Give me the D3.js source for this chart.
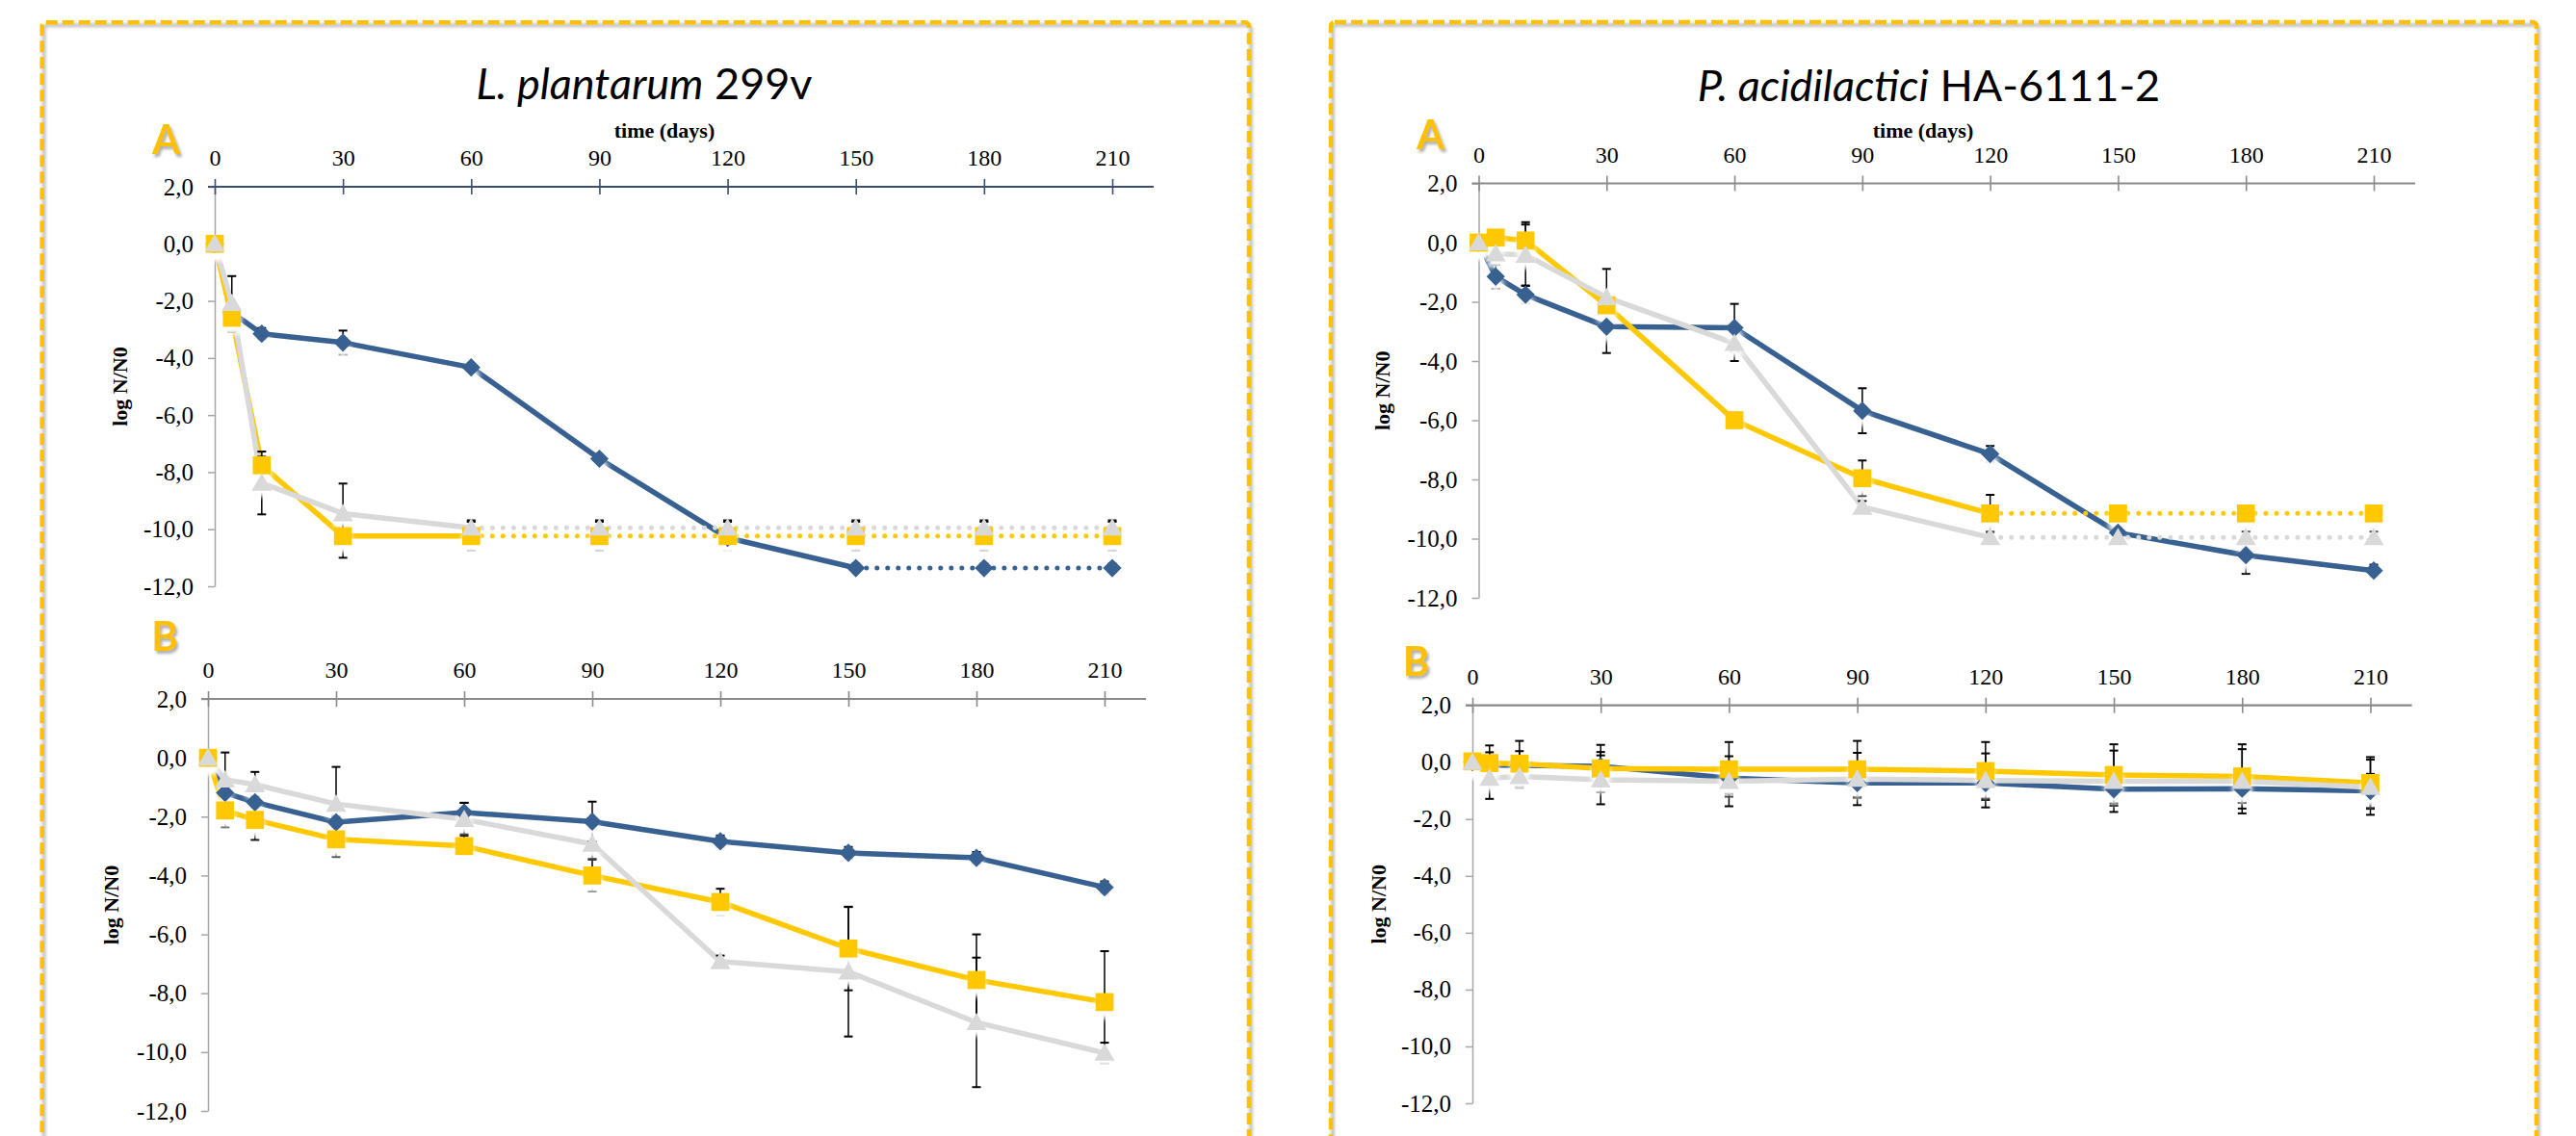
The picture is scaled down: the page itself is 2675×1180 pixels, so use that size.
<!DOCTYPE html>
<html><head><meta charset="utf-8">
<script src="https://cdn.jsdelivr.net/npm/d3@7"></script>
<style>body{margin:0;background:#fff;} svg{display:block}</style>
</head><body>
<svg id="c" width="2675" height="1180"></svg>
<script>
// ---------- DATA ----------
const days = [0, 4, 11, 30, 60, 90, 120, 150, 180, 210];
const xTickValues = [0, 30, 60, 90, 120, 150, 180, 210];
const yTickValues = [2, 0, -2, -4, -6, -8, -10, -12];
const titleItalic = ["L. plantarum", "P. acidilactici"];
const titleRoman = [" 299v", " HA-6111-2"];
const yAxisTitle = "log N/N0";
const xAxisTitle = "time (days)";

// L. plantarum 299v, panel A
const lpA_blue   = [0, -2.4, -3.15, -3.46, -4.33, -7.53, -10.3, -11.36, -11.36, -11.36];
const lpA_yellow = [0, -2.59, -7.76, -10.24, -10.24, -10.24, -10.24, -10.24, -10.24, -10.24];
const lpA_grey   = [0, -2.08, -8.38, -9.45, -9.95, -9.95, -9.95, -9.95, -9.95, -9.95];
const lpA_blueErr   = [0, 0, 0.2, 0.42, 0.1, 0.1, 0.3, 0.15, 0.15, 0.15];
const lpA_yellowErr = [0, 0.5, 0.3, 0.76, 0.5, 0.5, 0.5, 0.5, 0.5, 0.5];
const lpA_greyErr   = [0, 0.95, 1.1, 1.05, 0.26, 0.26, 0.26, 0.26, 0.26, 0.26];

// L. plantarum 299v, panel B
const lpB_blue   = [0, -1.19, -1.51, -2.19, -1.86, -2.17, -2.84, -3.23, -3.4, -4.4];
const lpB_yellow = [0, -1.79, -2.11, -2.77, -3.0, -4.0, -4.9, -6.48, -7.55, -8.3];
const lpB_grey   = [0, -0.75, -0.91, -1.57, -2.09, -2.93, -6.92, -7.27, -8.99, -10.03];
const lpB_blueErr   = [0, 0.3, 0.2, 0.2, 0.33, 0.68, 0.2, 0.2, 0.2, 0.2];
const lpB_yellowErr = [0, 0.57, 0.68, 0.6, 0.4, 0.54, 0.45, 1.42, 1.55, 1.73];
const lpB_greyErr   = [0, 0.93, 0.43, 1.26, 0.56, 0.5, 0.2, 2.2, 2.2, 0.35];

// P. acidilactici HA-6111-2, panel A
const paA_blue   = [0, -1.15, -1.76, -2.84, -2.88, -5.68, -7.14, -9.8, -10.56, -11.08];
const paA_yellow = [0, 0.17, 0.07, -2.12, -6.0, -7.96, -9.15, -9.15, -9.15, -9.15];
const paA_grey   = [0, -0.37, -0.42, -1.85, -3.4, -8.93, -9.96, -9.96, -9.96, -9.96];
const paA_blueErr   = [0, 0.4, 0.3, 0.89, 0.81, 0.76, 0.27, 0.2, 0.63, 0.2];
const paA_yellowErr = [0, 0.1, 0.62, 0.3, 0.1, 0.6, 0.63, 0.1, 0.1, 0.1];
const paA_greyErr   = [0, 0.2, 1.03, 0.96, 0.6, 0.2, 0.2, 0.2, 0.2, 0.2];

// P. acidilactici HA-6111-2, panel B
const paB_blue   = [0, -0.1, -0.11, -0.14, -0.56, -0.73, -0.73, -0.95, -0.93, -1.01];
const paB_yellow = [0.03, -0.03, -0.05, -0.22, -0.25, -0.25, -0.31, -0.45, -0.5, -0.73];
const paB_grey   = [0, -0.56, -0.5, -0.62, -0.67, -0.59, -0.64, -0.67, -0.67, -0.88];
const paB_blueErr   = [0, 0.45, 0.5, 0.5, 0.55, 0.5, 0.55, 0.5, 0.5, 0.6];
const paB_yellowErr = [0, 0.62, 0.8, 0.83, 0.96, 1.0, 1.02, 1.08, 1.13, 0.91];
const paB_greyErr   = [0, 0.73, 0.4, 0.86, 0.88, 0.92, 0.95, 1.08, 1.13, 0.97];

// ---------- STYLE / LAYOUT ----------
const C = {blue: "#386192", yellow: "#FFC800", grey: "#D9D9D9"};
const serif = "'Liberation Serif', 'Times New Roman', serif";
const sans = "Lato, 'Open Sans', sans-serif";

const panels = [
  {x0:223, x210:1155, yTop:194, yBot:609, axisColor:"#3B4E6B", letter:"A", lx:172.5, ly:160, time:[690,143], yl:124,
   s:[["blue",lpA_blue,lpA_blueErr,7],["yellow",lpA_yellow,lpA_yellowErr,4],["grey",lpA_grey,lpA_greyErr,4]]},
  {x0:216, x210:1147, yTop:726, yBot:1154, axisColor:"#8A8A8A", letter:"B", lx:171, ly:676, time:null, yl:115,
   s:[["blue",lpB_blue,lpB_blueErr,9],["yellow",lpB_yellow,lpB_yellowErr,9],["grey",lpB_grey,lpB_greyErr,9]]},
  {x0:1535.5, x210:2465, yTop:190.5, yBot:621, axisColor:"#8A8A8A", letter:"A", lx:1485.5, ly:155, time:[1997,143], yl:1435,
   s:[["blue",paA_blue,paA_blueErr,9],["yellow",paA_yellow,paA_yellowErr,6],["grey",paA_grey,paA_greyErr,6]]},
  {x0:1529, x210:2461.5, yTop:732.7, yBot:1146, axisColor:"#8A8A8A", letter:"B", lx:1470.5, ly:702, time:null, yl:1431,
   s:[["blue",paB_blue,paB_blueErr,9],["yellow",paB_yellow,paB_yellowErr,9],["grey",paB_grey,paB_greyErr,9]]}
];

const svg = d3.select("#c");
const defs = svg.append("defs");
defs.append("filter").attr("id","blur").attr("x","-5%").attr("y","-5%").attr("width","110%").attr("height","110%")
  .append("feGaussianBlur").attr("stdDeviation",1.6);
const fs = defs.append("filter").attr("id","lshadow").attr("x","-30%").attr("y","-30%").attr("width","160%").attr("height","160%");
fs.append("feDropShadow").attr("dx",2).attr("dy",3).attr("stdDeviation",1.5).attr("flood-color","#999").attr("flood-opacity",0.8);
defs.append("filter").attr("id","mglow").attr("x","-50%").attr("y","-50%").attr("width","200%").attr("height","200%")
  .append("feGaussianBlur").attr("stdDeviation",2.5);

// frames
[[43.7, 23.3, 1253.3], [1382, 23, 1252]].forEach(([x,y,w]) => {
  svg.append("rect").attr("x",x+2).attr("y",y+3).attr("width",w).attr("height",1300).attr("rx",4)
    .attr("fill","none").attr("stroke","#c4c4c4").attr("stroke-width",4).attr("filter","url(#blur)");
  svg.append("rect").attr("x",x).attr("y",y).attr("width",w).attr("height",1300).attr("rx",4)
    .attr("fill","none").attr("stroke","#FFC000").attr("stroke-width",4.5).attr("stroke-dasharray","12 5");
});

// titles
[[669,103],[2003,105]].forEach(([cx,by],i) => {
  const t = svg.append("text").attr("x",cx).attr("y",by).attr("text-anchor","middle")
    .attr("font-family",sans).attr("font-size",45).attr("fill","#000");
  t.append("tspan").attr("font-style","italic").text(titleItalic[i]);
  t.append("tspan").text(titleRoman[i]);
});

const yFmt = d3.formatLocale({decimal:",", thousands:".", grouping:[3], currency:["",""], minus:"-"}).format(".1f");

const shapes = {
  blue: d3.symbol(d3.symbolSquare, 185),
  yellow: d3.symbol(d3.symbolSquare, 350),
  grey: d3.symbol(d3.symbolTriangle, 190)
};

panels.forEach(p => {
  const x = d3.scaleLinear().domain([0,210]).range([p.x0, p.x210]);
  const y = d3.scaleLinear().domain([2,-12]).range([p.yTop, p.yBot]);
  const g = svg.append("g");

  // y axis
  const ya = g.append("g").attr("transform",`translate(${p.x0},0)`)
    .call(d3.axisLeft(y).tickValues(yTickValues).tickSize(7).tickSizeOuter(0).tickPadding(15).tickFormat(yFmt));
  ya.select(".domain").attr("stroke","#A6A6A6").attr("stroke-width",1.5);
  ya.selectAll(".tick line").attr("stroke","#A6A6A6").attr("stroke-width",1.5);
  ya.selectAll("text").attr("font-family",serif).attr("font-size",25).attr("fill","#000");

  // top x axis
  const xa = g.append("g").attr("transform",`translate(0,${p.yTop})`)
    .call(d3.axisTop(x).tickValues(xTickValues).tickSize(7).tickSizeOuter(0).tickPadding(15));
  xa.select(".domain").remove();
  xa.selectAll(".tick line").attr("y1",8).attr("y2",-8).attr("stroke",p.axisColor).attr("stroke-width",1.6);
  xa.selectAll("text").attr("font-family",serif).attr("font-size",24).attr("fill","#000").attr("y",-22).attr("dy","0");
  g.append("line").attr("x1",p.x0-7).attr("x2",x(219.7)).attr("y1",p.yTop).attr("y2",p.yTop)
    .attr("stroke",p.axisColor).attr("stroke-width",2.2);

  // labels
  g.append("text").attr("transform",`translate(${p.yl},${(p.yTop+p.yBot)/2}) rotate(-90)`).attr("dy","0.35em")
    .attr("text-anchor","middle").attr("font-family",serif).attr("font-weight","bold").attr("font-size",22).text(yAxisTitle);
  if (p.time) g.append("text").attr("x",p.time[0]).attr("y",p.time[1]).attr("text-anchor","middle")
    .attr("font-family",serif).attr("font-weight","bold").attr("font-size",22).text(xAxisTitle);
  g.append("text").attr("x",p.lx).attr("y",p.ly).attr("text-anchor","middle").attr("font-family",sans)
    .attr("font-weight","bold").attr("font-size",42).attr("fill","#FFC000").attr("filter","url(#lshadow)").text(p.letter);

  const line = d3.line().x(d=>x(d.d)).y(d=>y(d.v));
  const ser = p.s.map(([col, vals, errs, solidUntil]) => ({col, solidUntil,
    pts: days.map((d,i)=>({d, v:vals[i], e:errs[i]}))}));

  // lines
  ser.forEach(s => {
    g.append("path").attr("d", line(s.pts.slice(0, s.solidUntil+1))).attr("fill","none")
      .attr("stroke",C[s.col]).attr("stroke-width",5.5).attr("stroke-linejoin","round");
    if (s.solidUntil < days.length-1)
      g.append("path").attr("d", line(s.pts.slice(s.solidUntil))).attr("fill","none")
        .attr("stroke",C[s.col]).attr("stroke-width",5).attr("stroke-linecap","round").attr("stroke-dasharray","0.01 11");
  });
  // error bars
  ser.forEach(s => {
    s.pts.filter(d=>d.e>0).forEach(d => {
      const cx = x(d.d), y1 = y(d.v+d.e), y2 = y(d.v-d.e);
      g.append("line").attr("x1",cx).attr("x2",cx).attr("y1",y1).attr("y2",y2).attr("stroke","#000").attr("stroke-width",1.5);
      [y1,y2].forEach(yy => g.append("line").attr("x1",cx-4.5).attr("x2",cx+4.5).attr("y1",yy).attr("y2",yy)
        .attr("stroke","#000").attr("stroke-width",2));
    });
  });
  // marker glow + markers
  ser.forEach(s => {
    g.selectAll(null).data(s.pts).join("path").attr("d", shapes[s.col]())
      .attr("transform", d=>`translate(${x(d.d)},${y(d.v)+8})${s.col==="blue"?" rotate(45)":""}`)
      .attr("fill","#fff").attr("filter","url(#mglow)");
  });
  ser.forEach(s => {
    g.selectAll(null).data(s.pts).join("path").attr("d", shapes[s.col]())
      .attr("transform", d=>`translate(${x(d.d)},${y(d.v)+(s.col==="grey"?2:0)})${s.col==="blue"?" rotate(45)":""}`)
      .attr("fill",C[s.col]);
  });
});
</script>
</body></html>
